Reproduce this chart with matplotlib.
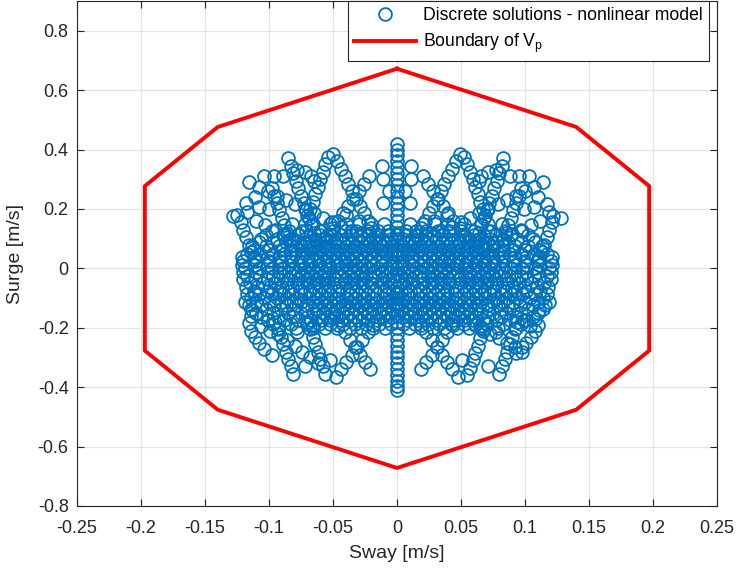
import numpy as np
import matplotlib
matplotlib.use("Agg")
import matplotlib.pyplot as plt

plt.rcParams["font.family"] = ["Liberation Sans", "DejaVu Sans"]
plt.rcParams["mathtext.fontset"] = "custom"
plt.rcParams["mathtext.rm"] = "Liberation Sans"

# Boundary polygon of V_p (sway, surge)
bound_x = [0.0, 0.140, 0.197, 0.197, 0.140, 0.0, -0.140, -0.197, -0.197, -0.140, 0.0]
bound_y = [0.672, 0.476, 0.277, -0.277, -0.476, -0.672, -0.476, -0.277, 0.277, 0.476, 0.672]

# Solutions on the zero-sway axis
col_y = [0.42, 0.40, 0.38, 0.36, 0.34, 0.32, 0.30, 0.28, 0.26, 0.24, 0.22, 0.20,
         0.18, 0.16, 0.14, 0.12, 0.10, 0.08, 0.06, 0.04, 0.02, 0.00, -0.02, -0.04,
         -0.06, -0.08, -0.10, -0.12, -0.14, -0.16, -0.18, -0.20, -0.22, -0.24,
         -0.26, -0.28, -0.30, -0.32, -0.34, -0.36, -0.38, -0.395, -0.41]
col_x = [0.0] * len(col_y)

# Upper left branches
ul_x = [-0.050, -0.047, -0.044, -0.041, -0.038, -0.035, -0.032, -0.029, -0.026, -0.023, -0.020, -0.017, -0.014,
        -0.054, -0.056, -0.058, -0.060, -0.062, -0.064, -0.066, -0.068, -0.070, -0.072, -0.074,
        -0.085, -0.083, -0.081, -0.079, -0.077, -0.075, -0.073, -0.071, -0.069, -0.067, -0.065, -0.063,
        -0.116, -0.108, -0.101, -0.094, -0.087, -0.080, -0.072, -0.065, -0.058, -0.051, -0.044, -0.036, -0.029,
        -0.125, -0.122, -0.120, -0.118, -0.116, -0.114, -0.112,
        -0.128, -0.117, -0.110, -0.103, -0.095, -0.088, -0.081, -0.073, -0.066,
        -0.104, -0.096, -0.089, -0.078, -0.072, -0.067, -0.065,
        -0.022, -0.026, -0.030, -0.034, -0.038, -0.042, -0.046, -0.050, -0.055,
        -0.098, -0.096, -0.094, -0.092, -0.090, -0.088, -0.086, -0.084,
        -0.012, -0.011, -0.006, -0.011, -0.111, -0.118, -0.108, -0.100, -0.040, -0.030]
ul_y = [0.385, 0.360, 0.335, 0.310, 0.285, 0.260, 0.235, 0.210, 0.185, 0.160, 0.135, 0.110, 0.085,
        0.375, 0.350, 0.325, 0.300, 0.275, 0.250, 0.225, 0.200, 0.175, 0.150, 0.125,
        0.372, 0.345, 0.320, 0.295, 0.270, 0.245, 0.220, 0.195, 0.170, 0.145, 0.120, 0.095,
        0.290, 0.275, 0.260, 0.245, 0.230, 0.215, 0.200, 0.185, 0.170, 0.155, 0.140, 0.125, 0.110,
        0.180, 0.155, 0.130, 0.105, 0.080, 0.055, 0.030,
        0.175, 0.190, 0.160, 0.145, 0.130, 0.115, 0.100, 0.085, 0.070,
        0.310, 0.310, 0.310, 0.330, 0.325, 0.310, 0.295,
        0.310, 0.285, 0.260, 0.235, 0.210, 0.185, 0.160, 0.135, 0.110,
        0.270, 0.245, 0.220, 0.195, 0.170, 0.145, 0.120, 0.095,
        0.345, 0.220, 0.260, 0.300, 0.240, 0.220, 0.205, 0.200, 0.180, 0.160]

# Upper right branches
ur_x = [0.049, 0.046, 0.043, 0.040, 0.037, 0.034, 0.031, 0.028, 0.025, 0.022, 0.019, 0.016, 0.013,
        0.052, 0.055, 0.057, 0.059, 0.061, 0.063, 0.065, 0.067, 0.069, 0.071, 0.073,
        0.083, 0.082, 0.080, 0.078, 0.076, 0.074, 0.072, 0.070, 0.068, 0.066, 0.064, 0.062,
        0.114, 0.107, 0.100, 0.093, 0.086, 0.079, 0.071, 0.064, 0.057, 0.050, 0.043, 0.035, 0.028,
        0.122, 0.121, 0.119, 0.117, 0.115, 0.113, 0.111,
        0.128, 0.119, 0.112, 0.105, 0.097, 0.090, 0.083, 0.075, 0.068,
        0.103, 0.095, 0.088, 0.077, 0.071, 0.066, 0.064,
        0.020, 0.024, 0.028, 0.032, 0.036, 0.040, 0.044, 0.049, 0.053,
        0.097, 0.095, 0.093, 0.091, 0.089, 0.087, 0.085, 0.083,
        0.011, 0.010, 0.006, 0.011, 0.110, 0.117, 0.107, 0.099, 0.039, 0.029]
ur_y = [0.385, 0.360, 0.335, 0.310, 0.285, 0.260, 0.235, 0.210, 0.185, 0.160, 0.135, 0.110, 0.085,
        0.375, 0.350, 0.325, 0.300, 0.275, 0.250, 0.225, 0.200, 0.175, 0.150, 0.125,
        0.372, 0.345, 0.320, 0.295, 0.270, 0.245, 0.220, 0.195, 0.170, 0.145, 0.120, 0.095,
        0.290, 0.275, 0.260, 0.245, 0.230, 0.215, 0.200, 0.185, 0.170, 0.155, 0.140, 0.125, 0.110,
        0.177, 0.155, 0.130, 0.105, 0.080, 0.055, 0.030,
        0.170, 0.190, 0.160, 0.145, 0.130, 0.115, 0.100, 0.085, 0.070,
        0.310, 0.310, 0.310, 0.330, 0.325, 0.310, 0.295,
        0.310, 0.285, 0.260, 0.235, 0.210, 0.185, 0.160, 0.135, 0.110,
        0.270, 0.245, 0.220, 0.195, 0.170, 0.145, 0.120, 0.095,
        0.345, 0.220, 0.260, 0.300, 0.240, 0.215, 0.205, 0.200, 0.180, 0.160]

# Lower left branches
ll_x = [-0.021, -0.025, -0.029, -0.033, -0.037, -0.041, -0.046, -0.050,
        -0.048, -0.044, -0.040, -0.035, -0.031, -0.027, -0.023, -0.019,
        -0.056, -0.058, -0.060, -0.062, -0.064, -0.066, -0.068, -0.070,
        -0.081, -0.083, -0.085, -0.087, -0.089, -0.091, -0.093, -0.095,
        -0.099, -0.093, -0.086, -0.080, -0.074, -0.068, -0.062,
        -0.114, -0.116, -0.114, -0.111, -0.108, -0.104, -0.098,
        -0.111, -0.113, -0.106, -0.101, -0.072, -0.078, -0.066, -0.052]
ll_y = [-0.340, -0.315, -0.290, -0.265, -0.240, -0.215, -0.190, -0.165,
        -0.366, -0.340, -0.315, -0.290, -0.265, -0.240, -0.215, -0.190,
        -0.355, -0.330, -0.305, -0.280, -0.255, -0.230, -0.205, -0.180,
        -0.355, -0.330, -0.305, -0.280, -0.255, -0.230, -0.205, -0.180,
        -0.210, -0.220, -0.240, -0.260, -0.280, -0.300, -0.320,
        -0.160, -0.185, -0.210, -0.230, -0.250, -0.270, -0.290,
        -0.086, -0.140, -0.195, -0.175, -0.330, -0.215, -0.195, -0.310]

# Lower right branches
lr_x = [0.019, 0.023, 0.027, 0.031, 0.035, 0.039, 0.044, 0.048,
        0.048, 0.043, 0.039, 0.035, 0.031, 0.027, 0.023, 0.019,
        0.055, 0.057, 0.059, 0.061, 0.063, 0.065, 0.067, 0.069,
        0.080, 0.082, 0.084, 0.086, 0.088, 0.090, 0.092, 0.094,
        0.098, 0.092, 0.086, 0.080, 0.073, 0.067, 0.061,
        0.108, 0.110, 0.108, 0.105, 0.101, 0.098, 0.093,
        0.108, 0.111, 0.104, 0.099, 0.071, 0.077, 0.065, 0.051]
lr_y = [-0.340, -0.315, -0.290, -0.265, -0.240, -0.215, -0.190, -0.165,
        -0.365, -0.340, -0.315, -0.290, -0.265, -0.240, -0.215, -0.190,
        -0.360, -0.335, -0.310, -0.285, -0.260, -0.235, -0.210, -0.185,
        -0.355, -0.330, -0.305, -0.280, -0.255, -0.230, -0.205, -0.180,
        -0.280, -0.265, -0.250, -0.235, -0.220, -0.205, -0.190,
        -0.170, -0.190, -0.210, -0.230, -0.250, -0.265, -0.285,
        -0.086, -0.140, -0.195, -0.175, -0.330, -0.215, -0.195, -0.310]

# Dense core, one surge level per row
core_y = [0.150, 0.125, 0.1125, 0.100, 0.0875, 0.075, 0.0625, 0.050, 0.0375, 0.025, 0.0125,
          0.000, -0.0125, -0.025, -0.0375, -0.050, -0.0625, -0.075, -0.0875, -0.100,
          -0.1125, -0.125, -0.1375, -0.150, -0.1625, -0.175, -0.1875, -0.200]
core_x = [
    [-0.082, -0.066, -0.052, -0.040, -0.030, -0.020, -0.010, 0.010, 0.020, 0.030, 0.040, 0.052, 0.066, 0.082],
    [-0.098, -0.084, -0.071, -0.060, -0.050, -0.041, -0.032, -0.023, -0.015, -0.007,
     0.007, 0.015, 0.023, 0.032, 0.041, 0.050, 0.060, 0.071, 0.084, 0.098],
    [-0.102, -0.089, -0.077, -0.068, -0.060, -0.052, -0.044, -0.036, -0.029, -0.022, -0.015, -0.008, 0.000,
     0.008, 0.015, 0.022, 0.029, 0.036, 0.044, 0.052, 0.060, 0.068, 0.077, 0.089, 0.102],
    [-0.106, -0.094, -0.083, -0.073, -0.064, -0.056, -0.048, -0.040, -0.033, -0.026, -0.019, -0.012, -0.005,
     0.005, 0.012, 0.019, 0.026, 0.033, 0.040, 0.048, 0.056, 0.064, 0.073, 0.083, 0.094, 0.106],
    [-0.108, -0.097, -0.087, -0.078, -0.070, -0.063, -0.056, -0.049, -0.042, -0.035, -0.028, -0.021, -0.014, -0.007,
     0.000, 0.007, 0.014, 0.021, 0.028, 0.035, 0.042, 0.049, 0.056, 0.063, 0.070, 0.078, 0.087, 0.097, 0.108],
    [-0.113, -0.102, -0.092, -0.083, -0.075, -0.067, -0.060, -0.053, -0.046, -0.039, -0.032, -0.025, -0.018, -0.011, -0.004,
     0.004, 0.011, 0.018, 0.025, 0.032, 0.039, 0.046, 0.053, 0.060, 0.067, 0.075, 0.083, 0.092, 0.102, 0.113],
    [-0.112, -0.100, -0.091, -0.083, -0.075, -0.068, -0.061, -0.054, -0.047, -0.040, -0.033, -0.026, -0.019, -0.012, -0.004,
     0.004, 0.012, 0.019, 0.026, 0.033, 0.040, 0.047, 0.054, 0.061, 0.068, 0.075, 0.083, 0.091, 0.100, 0.112],
    [-0.117, -0.107, -0.097, -0.088, -0.080, -0.072, -0.064, -0.057, -0.050, -0.043, -0.036, -0.029, -0.022, -0.015, -0.008,
     0.000, 0.008, 0.015, 0.022, 0.029, 0.036, 0.043, 0.050, 0.057, 0.064, 0.072, 0.080, 0.088, 0.097, 0.107, 0.117],
    [-0.121, -0.111, -0.101, -0.092, -0.083, -0.075, -0.067, -0.060, -0.053, -0.046, -0.039, -0.032, -0.025, -0.018, -0.011, -0.004,
     0.004, 0.011, 0.018, 0.025, 0.032, 0.039, 0.046, 0.053, 0.060, 0.067, 0.075, 0.083, 0.092, 0.101, 0.111, 0.121],
    [-0.120, -0.110, -0.100, -0.091, -0.083, -0.076, -0.069, -0.062, -0.055, -0.048, -0.041, -0.034, -0.027, -0.020, -0.012, -0.004,
     0.004, 0.012, 0.020, 0.027, 0.034, 0.041, 0.048, 0.055, 0.062, 0.069, 0.076, 0.083, 0.091, 0.100, 0.110, 0.120],
    [-0.121, -0.111, -0.101, -0.092, -0.084, -0.076, -0.068, -0.061, -0.054, -0.047, -0.040, -0.033, -0.026, -0.019, -0.012, -0.004,
     0.004, 0.012, 0.019, 0.026, 0.033, 0.040, 0.047, 0.054, 0.061, 0.068, 0.076, 0.084, 0.092, 0.101, 0.111, 0.121],
    [-0.119, -0.108, -0.098, -0.089, -0.081, -0.073, -0.066, -0.059, -0.052, -0.044, -0.037, -0.030, -0.023, -0.015, -0.008,
     0.000, 0.008, 0.015, 0.023, 0.030, 0.037, 0.044, 0.052, 0.059, 0.066, 0.073, 0.081, 0.089, 0.098, 0.108, 0.119],
    [-0.120, -0.110, -0.101, -0.092, -0.084, -0.077, -0.070, -0.063, -0.056, -0.048, -0.041, -0.034, -0.027, -0.019, -0.012, -0.005,
     0.005, 0.012, 0.019, 0.027, 0.034, 0.041, 0.048, 0.056, 0.063, 0.070, 0.077, 0.084, 0.092, 0.101, 0.110, 0.120],
    [-0.117, -0.107, -0.097, -0.089, -0.081, -0.074, -0.067, -0.060, -0.053, -0.045, -0.038, -0.031, -0.024, -0.017, -0.009, -0.003,
     0.003, 0.009, 0.017, 0.024, 0.031, 0.038, 0.045, 0.053, 0.060, 0.067, 0.074, 0.081, 0.089, 0.097, 0.107, 0.117],
    [-0.120, -0.111, -0.101, -0.093, -0.085, -0.077, -0.070, -0.063, -0.056, -0.049, -0.041, -0.034, -0.027, -0.020, -0.012, -0.006,
     0.006, 0.012, 0.020, 0.027, 0.034, 0.041, 0.049, 0.056, 0.063, 0.070, 0.077, 0.085, 0.093, 0.101, 0.111, 0.120],
    [-0.115, -0.105, -0.095, -0.086, -0.078, -0.070, -0.063, -0.056, -0.049, -0.041, -0.034, -0.027, -0.020, -0.012, -0.005,
     0.005, 0.012, 0.020, 0.027, 0.034, 0.041, 0.049, 0.056, 0.063, 0.070, 0.078, 0.086, 0.095, 0.105, 0.115],
    [-0.118, -0.109, -0.099, -0.090, -0.082, -0.074, -0.066, -0.059, -0.052, -0.045, -0.037, -0.030, -0.023, -0.016, -0.008,
     0.000, 0.008, 0.016, 0.023, 0.030, 0.037, 0.045, 0.052, 0.059, 0.066, 0.074, 0.082, 0.090, 0.099, 0.109, 0.118],
    [-0.112, -0.101, -0.092, -0.084, -0.076, -0.068, -0.061, -0.054, -0.047, -0.039, -0.032, -0.025, -0.018, -0.010, -0.003,
     0.003, 0.010, 0.018, 0.025, 0.032, 0.039, 0.047, 0.054, 0.061, 0.068, 0.076, 0.084, 0.092, 0.101, 0.112],
    [-0.117, -0.108, -0.098, -0.089, -0.081, -0.073, -0.066, -0.059, -0.052, -0.045, -0.037, -0.030, -0.023, -0.016, -0.008,
     0.000, 0.008, 0.016, 0.023, 0.030, 0.037, 0.045, 0.052, 0.059, 0.066, 0.073, 0.081, 0.089, 0.098, 0.108, 0.117],
    [-0.114, -0.104, -0.094, -0.086, -0.078, -0.069, -0.062, -0.055, -0.048, -0.040, -0.033, -0.026, -0.019, -0.011, -0.004,
     0.004, 0.011, 0.019, 0.026, 0.033, 0.040, 0.048, 0.055, 0.062, 0.069, 0.078, 0.086, 0.094, 0.104, 0.114],
    [-0.119, -0.110, -0.100, -0.091, -0.083, -0.075, -0.066, -0.059, -0.052, -0.045, -0.037, -0.030, -0.023, -0.016, -0.008,
     0.000, 0.008, 0.016, 0.023, 0.030, 0.037, 0.045, 0.052, 0.059, 0.066, 0.075, 0.083, 0.091, 0.100, 0.110, 0.119],
    [-0.116, -0.106, -0.096, -0.087, -0.079, -0.071, -0.064, -0.057, -0.050, -0.042, -0.035, -0.028, -0.021, -0.013, -0.006,
     0.006, 0.013, 0.021, 0.028, 0.035, 0.042, 0.050, 0.057, 0.064, 0.071, 0.079, 0.087, 0.096, 0.106, 0.116],
    [-0.114, -0.102, -0.091, -0.081, -0.071, -0.062, -0.054, -0.047, -0.039, -0.032, -0.025, -0.018, -0.010, -0.003,
     0.003, 0.010, 0.018, 0.025, 0.032, 0.039, 0.047, 0.054, 0.062, 0.071, 0.081, 0.091, 0.102, 0.114],
    [-0.110, -0.097, -0.085, -0.075, -0.066, -0.058, -0.051, -0.043, -0.036, -0.029, -0.022, -0.014, -0.007,
     0.007, 0.014, 0.022, 0.029, 0.036, 0.043, 0.051, 0.058, 0.066, 0.075, 0.085, 0.097, 0.110],
    [-0.106, -0.093, -0.081, -0.070, -0.062, -0.055, -0.048, -0.040, -0.033, -0.026, -0.019, -0.011, -0.004,
     0.004, 0.011, 0.019, 0.026, 0.033, 0.040, 0.048, 0.055, 0.062, 0.070, 0.081, 0.093, 0.106],
    [-0.101, -0.088, -0.077, -0.067, -0.059, -0.052, -0.044, -0.037, -0.030, -0.023, -0.016, -0.008,
     0.008, 0.016, 0.023, 0.030, 0.037, 0.044, 0.052, 0.059, 0.067, 0.077, 0.088, 0.101],
    [-0.097, -0.083, -0.070, -0.061, -0.052, -0.042, -0.033, -0.024, -0.014, -0.005,
     0.005, 0.014, 0.024, 0.033, 0.042, 0.052, 0.061, 0.070, 0.083, 0.097],
    [-0.093, -0.079, -0.066, -0.056, -0.047, -0.037, -0.028, -0.019, -0.009,
     0.009, 0.019, 0.028, 0.037, 0.047, 0.056, 0.066, 0.079, 0.093],
]

sway = list(col_x) + ul_x + ur_x + ll_x + lr_x
surge = list(col_y) + ul_y + ur_y + ll_y + lr_y
for yv, xs in zip(core_y, core_x):
    sway += xs
    surge += [yv] * len(xs)

fig = plt.figure(figsize=(7.36, 5.73), dpi=100)
ax = fig.add_axes([77 / 736, 67 / 573, 640 / 736, 505 / 573])

ax.plot(sway, surge, "o", mfc="none", mec="#0072BD", ms=9.2, mew=1.3,
        label="Discrete solutions - nonlinear model")
ax.plot(bound_x, bound_y, "-", color="#FF0000", lw=2.8, label="Boundary of V$_\\mathregular{p}$")

ax.set_xlim(-0.25, 0.25)
ax.set_ylim(-0.8, 0.9)
ax.set_xticks(np.arange(-0.25, 0.2501, 0.05))
ax.set_xticklabels(["-0.25", "-0.2", "-0.15", "-0.1", "-0.05", "0", "0.05", "0.1", "0.15", "0.2", "0.25"])
ax.set_yticks([-0.8, -0.6, -0.4, -0.2, 0, 0.2, 0.4, 0.6, 0.8])
ax.set_yticklabels(["-0.8", "-0.6", "-0.4", "-0.2", "0", "0.2", "0.4", "0.6", "0.8"])

ax.grid(True, color="#e3e3e3", lw=0.9)
ax.set_axisbelow(True)
for s in ax.spines.values():
    s.set_color("#262626")
    s.set_linewidth(0.8)
ax.tick_params(direction="in", length=5, width=0.8, colors="#262626", labelsize=13,
               top=True, right=True)
ax.tick_params(axis="x", pad=10)
ax.tick_params(axis="y", pad=6)

ax.set_xlabel("Sway [m/s]", fontsize=14, color="#262626")
ax.set_ylabel("Surge [m/s]", fontsize=14, color="#262626")
ax.xaxis.set_label_coords(0.5, -39 / 505)
ax.yaxis.set_label_coords(-53 / 640, 0.5)

leg = ax.legend(loc="upper right", bbox_to_anchor=(1 - 8 / 640, 1.0), borderaxespad=0,
                fontsize=12.7, fancybox=False, framealpha=1, edgecolor="#262626",
                handlelength=3.5, handletextpad=0.4, labelspacing=0.45, borderpad=0.35)
leg.get_frame().set_linewidth(0.8)

fig.savefig("out.png", dpi=100)
